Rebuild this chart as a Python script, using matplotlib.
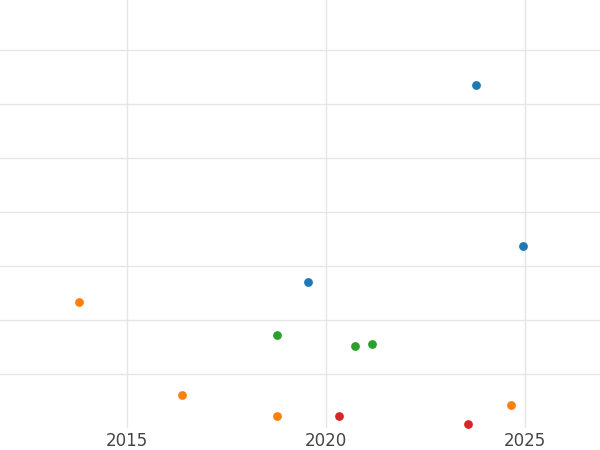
import matplotlib
matplotlib.use("Agg")
import matplotlib.pyplot as plt

# series (y in arbitrary units, gridline spacing = 1)
blue_x = [2023.77, 2024.97, 2019.56]
blue_y = [6.35, 3.36, 2.69]
orange_x = [2013.79, 2016.39, 2018.76, 2024.67]
orange_y = [2.32, 0.61, 0.22, 0.42]
green_x = [2018.76, 2020.74, 2021.17]
green_y = [1.71, 1.52, 1.54]
red_x = [2020.34, 2023.59]
red_y = [0.22, 0.07]
xticks = [2015, 2020, 2025]

fig = plt.figure(figsize=(6, 4.5), dpi=100)
ax = fig.add_axes([0, 0.05, 1, 0.95])
for xs, ys, c in [(blue_x, blue_y, "#1f77b4"), (orange_x, orange_y, "#ff7f0e"),
                  (green_x, green_y, "#2ca02c"), (red_x, red_y, "#d62728")]:
    ax.scatter(xs, ys, s=40, color=c, zorder=3, linewidths=0)
ax.set_xlim(2011.8, 2026.9)
ax.set_ylim(0, 7.93)
ax.set_xticks(xticks)
ax.set_yticks(range(1, 8))
ax.set_yticklabels([])
ax.grid(True, color="#e6e6e6", lw=1)
ax.tick_params(length=0, labelsize=12, labelcolor="#444444")
for s in ax.spines.values():
    s.set_visible(False)
fig.savefig("out.png", dpi=100)
